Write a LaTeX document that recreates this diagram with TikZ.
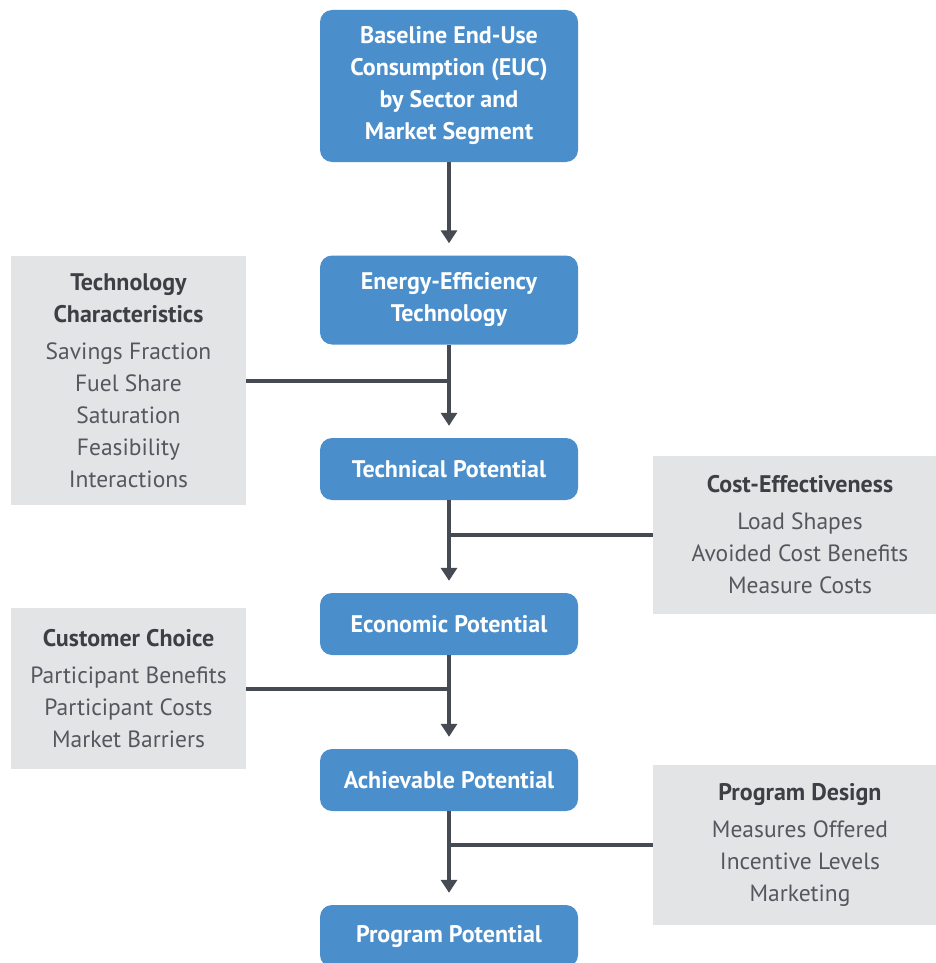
\documentclass[tikz,border=0pt]{standalone}
\usepackage{fontspec}
\setmainfont{PT Sans}
\usetikzlibrary{arrows.meta}

\definecolor{stageblue}{RGB}{74,143,204}
\definecolor{factorgray}{RGB}{227,228,230}
\definecolor{linegray}{RGB}{70,74,82}
\definecolor{textgray}{RGB}{84,87,93}
\definecolor{headgray}{RGB}{60,63,68}

\newcommand{\headline}[1]{{\fontsize{24}{28}\selectfont\textcolor{headgray}{\bfseries #1}}}

\begin{document}
\begin{tikzpicture}[x=1pt, y=-1pt,
    stage/.style={fill=stageblue, rounded corners=12pt, text=white, align=center,
      minimum width=258pt, inner sep=0pt, font=\bfseries\fontsize{24}{32}\selectfont},
    factor/.style={fill=factorgray, text=textgray, align=center, inner sep=0pt,
      font=\fontsize{23.5}{32}\selectfont},
    flow/.style={draw=linegray, line width=4pt, shorten >=12pt,
      -{Triangle[width=16pt,length=13pt]}},
    feed/.style={draw=linegray, line width=4pt}]
  \useasboundingbox (0,0) rectangle (936,963);

  % potentials, top to bottom
  \node[stage, minimum height=152pt] (euc) at (449,86)
    {Baseline End-Use\\Consumption (EUC)\\by Sector and\\Market Segment};
  \node[stage, minimum height=89pt] (eet) at (449,300) {Energy-Efficiency\\Technology};
  \node[stage, minimum height=62pt] (tech) at (449,469) {Technical Potential};
  \node[stage, minimum height=62pt] (econ) at (449,624) {Economic Potential};
  \node[stage, minimum height=62pt] (achv) at (449,780) {Achievable Potential};
  \node[stage, minimum height=62pt] (prog) at (449,936) {Program Potential};

  % inputs feeding each step
  \node[factor, minimum width=235pt, minimum height=249pt] (techchar) at (128.5,380.5)
    {\headline{Technology}\\\headline{Characteristics}\\[5pt]
     Savings Fraction\\Fuel Share\\Saturation\\Feasibility\\Interactions};
  \node[factor, minimum width=294pt, minimum height=158pt] (costeff) at (800,534.5)
    {\headline{Cost-Effectiveness}\\[5pt]Load Shapes\\Avoided Cost Benefits\\Measure Costs};
  \node[factor, minimum width=235pt, minimum height=161pt] (choice) at (128.5,688.5)
    {\headline{Customer Choice}\\[5pt]Participant Benefits\\Participant Costs\\Market Barriers};
  \node[factor, minimum width=294pt, minimum height=160pt] (design) at (800,845)
    {\headline{Program Design}\\[5pt]Measures Offered\\Incentive Levels\\Marketing};

  \draw[flow] (euc.south) -- (eet.north);
  \draw[flow] (eet.south) -- (tech.north);
  \draw[flow] (tech.south) -- (econ.north);
  \draw[flow] (econ.south) -- (achv.north);
  \draw[flow] (achv.south) -- (prog.north);

  \draw[feed] (techchar.east) -- (techchar.east -| eet);
  \draw[feed] (costeff.west) -- (costeff.west -| tech);
  \draw[feed] (choice.east) -- (choice.east -| econ);
  \draw[feed] (design.west) -- (design.west -| achv);
\end{tikzpicture}
\end{document}
